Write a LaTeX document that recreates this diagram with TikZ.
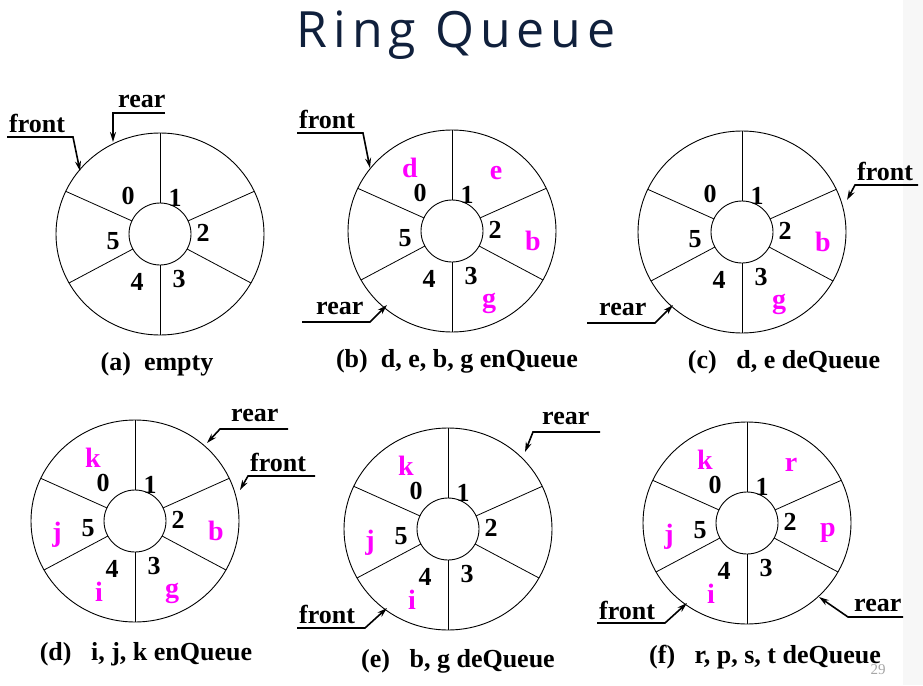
\documentclass[tikz,border=0pt]{standalone}
\usepackage{fontspec}
\setmainfont{Liberation Serif}
\newfontfamily\titlefont[LetterSpace=12]{Open Sans}
\usepackage{tikz}
\usetikzlibrary{arrows.meta,calc}
\definecolor{qmagenta}{RGB}{255,0,255}
\definecolor{titlenavy}{RGB}{16,32,60}

\begin{document}
\begin{tikzpicture}[x=1pt,y=-1pt,
  ring/.style={line width=0.9pt},
  spoke/.style={line width=0.8pt},
  digit/.style={font=\fontsize{26}{26}\selectfont\bfseries,inner sep=0pt},
  item/.style={font=\fontsize{28}{28}\selectfont\bfseries,text=qmagenta,inner sep=0pt},
  ptr/.style={line width=1.6pt,line join=miter,-{Stealth[length=10pt,width=6pt]}},
  lbl/.style={font=\fontsize{26}{26}\selectfont\bfseries,anchor=base west,inner sep=0pt},
  caption/.style={font=\fontsize{26}{26}\selectfont\bfseries,anchor=base,inner sep=0pt}]
\useasboundingbox (0,0) rectangle (923,685);
\fill[black!3] (903,0) rectangle (923,685);
\node[font=\titlefont\fontsize{50}{50}\selectfont,text=titlenavy,anchor=base,inner sep=0pt] (title) at (456,48) {Ring Queue};
% rings with slot numbers
\foreach \n/\cx/\cy in {a/160/234,b/452/231,c/742/232,d/135/521,e/448/529,f/747/523} {
  \coordinate (\n) at (\cx,\cy);
  \draw[ring] (\n) ellipse [x radius=104,y radius=101];
  \draw[ring] (\n) circle [radius=31];
  \foreach \ang in {-90,-25,29,90,151,205}
    \draw[spoke] ($(\n)+(\ang:31)$) -- ($(\n)+({104*cos(\ang)},{101*sin(\ang)})$);
  \foreach \k/\dx/\dy in {0/-32/-38,1/15/-36,2/43/-1,3/19/45,4/-23/48,5/-47/7}
    \node[digit] (\n-\k) at ($(\n)+(\dx,\dy)$) {\k};
}
% queue items
\node[item] (b-d) at ($(b)+(-42,-63)$) {d};
\node[item] (b-e) at ($(b)+(44,-58)$) {e};
\node[item] (b-b) at ($(b)+(81,10)$) {b};
\node[item] (b-g) at ($(b)+(37,72)$) {g};
\node[item] (c-b) at ($(c)+(81,10)$) {b};
\node[item] (c-g) at ($(c)+(37,72)$) {g};
\node[item] (d-k) at ($(d)+(-42,-63)$) {k};
\node[item] (d-b) at ($(d)+(81,10)$) {b};
\node[item] (d-g) at ($(d)+(37,72)$) {g};
\node[item] (d-i) at ($(d)+(-36,71)$) {i};
\node[item] (d-j) at ($(d)+(-78,14)$) {j};
\node[item] (e-k) at ($(e)+(-42,-63)$) {k};
\node[item] (e-i) at ($(e)+(-36,71)$) {i};
\node[item] (e-j) at ($(e)+(-78,14)$) {j};
\node[item] (f-k) at ($(f)+(-42,-63)$) {k};
\node[item] (f-r) at ($(f)+(44,-58)$) {r};
\node[item] (f-p) at ($(f)+(81,10)$) {p};
\node[item] (f-i) at ($(f)+(-36,71)$) {i};
\node[item] (f-j) at ($(f)+(-78,14)$) {j};
% front / rear pointers
\node[lbl] (a-front) at (9,132) {front};
\path (7,137) coordinate (a-fl) (73,137) coordinate (a-fr) (80,171) coordinate (a-ft);
\draw[ptr] (a-fl) -- (a-fr) -- (a-ft);
\node[lbl] (a-rear) at (118,107) {rear};
\path (165,113) coordinate (a-rl) (113,113) coordinate (a-rr) (113,142) coordinate (a-rt);
\draw[ptr] (a-rl) -- (a-rr) -- (a-rt);
\node[lbl] (b-front) at (299,128) {front};
\path (297,133) coordinate (b-fl) (363,133) coordinate (b-fr) (370,168) coordinate (b-ft);
\draw[ptr] (b-fl) -- (b-fr) -- (b-ft);
\node[lbl] (b-rear) at (316,314) {rear};
\path (302,322) coordinate (b-rl) (370,322) coordinate (b-rr) (387,305) coordinate (b-rt);
\draw[ptr] (b-rl) -- (b-rr) -- (b-rt);
\node[lbl] (c-front) at (857,180) {front};
\path (918,185) coordinate (c-fl) (855,185) coordinate (c-fr) (847,200) coordinate (c-ft);
\draw[ptr] (c-fl) -- (c-fr) -- (c-ft);
\node[lbl] (c-rear) at (599,315) {rear};
\path (587,323) coordinate (c-rl) (655,323) coordinate (c-rr) (673,305) coordinate (c-rt);
\draw[ptr] (c-rl) -- (c-rr) -- (c-rt);
\node[lbl] (d-rear) at (231,421) {rear};
\path (288,429) coordinate (d-rl) (220,429) coordinate (d-rr) (207,443) coordinate (d-rt);
\draw[ptr] (d-rl) -- (d-rr) -- (d-rt);
\node[lbl] (d-front) at (250,471) {front};
\path (315,476) coordinate (d-fl) (248,476) coordinate (d-fr) (240,490) coordinate (d-ft);
\draw[ptr] (d-fl) -- (d-fr) -- (d-ft);
\node[lbl] (e-rear) at (542,424) {rear};
\path (600,432) coordinate (e-rl) (533,432) coordinate (e-rr) (525,452) coordinate (e-rt);
\draw[ptr] (e-rl) -- (e-rr) -- (e-rt);
\node[lbl] (e-front) at (299,623) {front};
\path (297,628) coordinate (e-fl) (365,628) coordinate (e-fr) (387,608) coordinate (e-ft);
\draw[ptr] (e-fl) -- (e-fr) -- (e-ft);
\node[lbl] (f-front) at (599,619) {front};
\path (597,623) coordinate (f-fl) (665,623) coordinate (f-fr) (687,603) coordinate (f-ft);
\draw[ptr] (f-fl) -- (f-fr) -- (f-ft);
\node[lbl] (f-rear) at (854,611) {rear};
\path (903,617) coordinate (f-rl) (848,617) coordinate (f-rr) (819,597) coordinate (f-rt);
\draw[ptr] (f-rl) -- (f-rr) -- (f-rt);
% captions
\node[caption] (a-cap) at (157,370) {(a)\ \ empty};
\node[caption] (b-cap) at (457,367) {(b)\ \ d, e, b, g enQueue};
\node[caption] (c-cap) at (784,368) {(c)\ \ \ d, e deQueue};
\node[caption] (d-cap) at (146,660) {(d)\ \ \ i, j, k enQueue};
\node[caption] (e-cap) at (458,667) {(e)\ \ \ b, g deQueue};
\node[caption] (f-cap) at (765,663) {(f)\ \ \ r, p, s, t deQueue};
\node[font=\fontsize{15}{15}\selectfont,text=black!35,anchor=base,inner sep=0pt] (pagenum) at (878,674) {29};
\end{tikzpicture}
\end{document}
